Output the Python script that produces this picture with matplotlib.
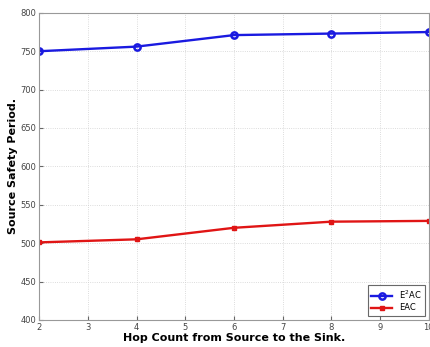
import matplotlib
matplotlib.use("Agg")
import matplotlib.pyplot as plt

# data
hops = [2, 4, 6, 8, 10]
e2ac = [750, 756, 771, 773, 775]
eac = [501, 505, 520, 528, 529]

fig = plt.figure(figsize=(4.3, 3.47), dpi=100)
ax = fig.add_axes([0.091, 0.078, 0.906, 0.885])

ax.plot(hops, e2ac, color='#1a1ae0', lw=1.7, marker='o', ms=4.5,
        mfc='none', mew=1.8, label='E$^2$AC')
ax.plot(hops, eac, color='#e01515', lw=1.7, marker='s', ms=2.5,
        label='EAC')

ax.set_xlim(2, 10)
ax.set_ylim(400, 800)
ax.set_xticks(range(2, 11))
ax.set_yticks(range(400, 801, 50))
ax.grid(True, linestyle=':', color='#d0d0d0', lw=0.6)

for s in ax.spines.values():
    s.set_color('#999999')
ax.tick_params(labelsize=6, colors='#666666', direction='in', length=3, pad=2)
for lbl in ax.get_xticklabels() + ax.get_yticklabels():
    lbl.set_color('#444444')

ax.set_xlabel('Hop Count from Source to the Sink.', fontsize=8,
              fontweight='bold', labelpad=1)
ax.set_ylabel('Source Safety Period.', fontsize=8, fontweight='bold',
              labelpad=2)

leg = ax.legend(loc='lower right', fontsize=6, frameon=True, fancybox=False,
                edgecolor='#444444', handlelength=2.5, borderpad=0.4,
                labelspacing=0.3)
leg.get_frame().set_linewidth(0.8)

fig.savefig('out.png', dpi=100)
